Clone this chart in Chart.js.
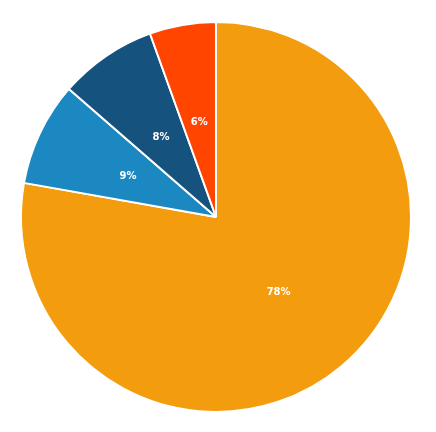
<!DOCTYPE html>
<html>
<head>
<meta charset="utf-8">
<script src="https://cdn.jsdelivr.net/npm/chart.js@4"></script>
<style>
  html, body { margin: 0; padding: 0; background: #fff; }
  #wrap { width: 436px; height: 432px; }
</style>
</head>
<body>
<div id="wrap"><canvas id="pieChart"></canvas></div>
<script>
// slice data (clockwise from 12 o'clock)
const sliceLabels = ['A', 'B', 'C', 'D'];
const sliceValues = [77.8, 8.6, 8.1, 5.5];
const sliceText = ['78%', '9%', '8%', '6%'];
const sliceColors = ['#F39C0E', '#1B88C2', '#16527E', '#FF4500'];

// draws the percent text at the middle of each slice
const pctLabels = {
  id: 'pctLabels',
  afterDatasetsDraw(chart) {
    const ctx = chart.ctx;
    const meta = chart.getDatasetMeta(0);
    ctx.save();
    ctx.font = 'bold 10px "DejaVu Sans"';
    ctx.fillStyle = '#fff';
    ctx.textAlign = 'center';
    ctx.textBaseline = 'middle';
    meta.data.forEach((arc, i) => {
      const p = arc.tooltipPosition();
      ctx.fillText(sliceText[i], p.x, p.y + 1);
    });
    ctx.restore();
  }
};

const pieCtx = document.getElementById('pieChart').getContext('2d');
new Chart(pieCtx, {
  type: 'pie',
  data: {
    labels: sliceLabels,
    datasets: [{
      data: sliceValues,
      backgroundColor: sliceColors,
      borderColor: '#fff',
      borderWidth: 2
    }]
  },
  options: {
    responsive: true,
    maintainAspectRatio: false,
    animation: false,
    layout: { padding: { top: 21, bottom: 19, left: 17, right: 21 } },
    plugins: {
      legend: { display: false },
      tooltip: { enabled: false }
    }
  },
  plugins: [pctLabels]
});
</script>
</body>
</html>
